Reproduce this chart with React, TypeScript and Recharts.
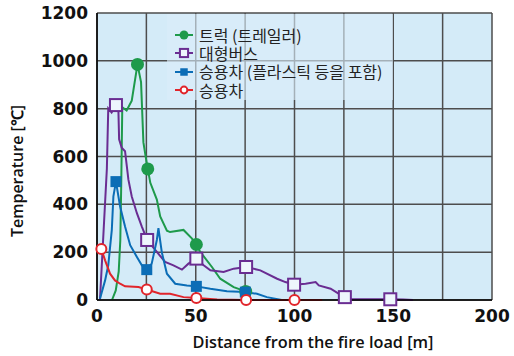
import {
  CartesianGrid,
  ComposedChart,
  Label,
  Legend,
  Line,
  XAxis,
  YAxis,
} from "recharts";

// distance [m], temperature [°C]
const TRUCK: [number, number][] = [
  [7.6, 0], [9.5, 40], [11, 120], [11.8, 250], [12.3, 500], [12.8, 806],
  [15, 792], [17.6, 833], [20.5, 985], [22.3, 911], [23.5, 659], [24.7, 596],
  [25.7, 548], [27, 490], [30.3, 420], [32, 349], [35.4, 290], [37, 284],
  [43.8, 293], [48, 258], [50.3, 232], [52.3, 201], [58.2, 138], [62.4, 89],
  [69.2, 54], [75.3, 36],
];
const TRUCK_MARKS = [20.5, 25.7, 50.3, 75.3];

const BUS: [number, number][] = [
  [1.5, 0], [5, 550], [5.7, 801], [7.4, 784], [9.6, 815], [10.8, 805],
  [11.2, 672], [12.5, 637], [14.2, 622], [15.9, 503], [17.6, 433], [20.2, 363],
  [22.7, 307], [25.4, 251], [30.3, 201], [34.5, 159], [38.7, 145], [43, 127],
  [46.3, 152], [50.3, 173], [54, 145], [57.4, 124], [64.1, 117], [69.2, 131],
  [75.5, 138], [82.7, 124], [91.2, 89], [95.4, 75], [99.8, 64], [105.6, 68],
  [110.7, 75], [112.3, 61], [118.3, 47], [122.5, 26], [125.5, 12], [128, 3],
  [140, 3], [148.5, 3], [155, 2], [160, 0],
];
const BUS_MARKS = [9.6, 25.4, 50.3, 75.5, 99.8, 125.5, 148.5];

const CAR_PLASTIC: [number, number][] = [
  [1.5, 5], [4.1, 82], [5.7, 145], [7.5, 293], [8.3, 433], [9.6, 495],
  [11.7, 391], [14.2, 307], [16.8, 229], [20.2, 180], [22.7, 145], [25.2, 127],
  [27.7, 152], [30.3, 251], [31.1, 300], [32.8, 200], [35.4, 110], [39.6, 68],
  [45.5, 61], [50.3, 57], [57.4, 47], [65.8, 37], [75.1, 33], [81, 26],
  [86, 12], [93.5, 0],
];
const CAR_PLASTIC_MARKS = [9.6, 25.2, 50.3, 75.1];

const CAR: [number, number][] = [
  [2.2, 213], [4.1, 166], [6.6, 110], [9.1, 82], [11.7, 68], [14.2, 57],
  [21, 54], [25.2, 44], [32, 26], [37, 26], [43.8, 12], [50.3, 8],
  [60.8, 2], [75.5, 0], [100, 0], [114, 0],
];
const CAR_MARKS = [2.2, 25.2, 50.3, 75.5, 100];

const DISTANCE_TICKS = [0, 25, 50, 75, 100, 125, 150, 175, 200];
const TEMP_TICKS = [0, 200, 400, 600, 800, 1000, 1200];

const BG = "#d4ebf8";
const TICK_FONT = { fill: "#111", fontSize: 17, fontWeight: 700, fontFamily: "'DejaVu Sans', sans-serif" };

type MarkerKind = "dot" | "square" | "filledSquare" | "ring";

type Series = {
  name: string;
  color: string;
  marker: MarkerKind;
  points: { d: number; t: number }[];
  marks: number[];
};

const SERIES: Series[] = [
  { name: "트럭 (트레일러)", color: "#1e9a4b", marker: "dot", points: toRows(TRUCK), marks: TRUCK_MARKS },
  { name: "대형버스", color: "#6a2d92", marker: "square", points: toRows(BUS), marks: BUS_MARKS },
  { name: "승용차 (플라스틱 등을 포함)", color: "#0b6db6", marker: "filledSquare", points: toRows(CAR_PLASTIC), marks: CAR_PLASTIC_MARKS },
  { name: "승용차", color: "#e1252b", marker: "ring", points: toRows(CAR), marks: CAR_MARKS },
];

function toRows(pairs: [number, number][]) {
  return pairs.map(([d, t]) => ({ d, t }));
}

function Marker({ kind, x, y, color, scale = 1 }: { kind: MarkerKind; x: number; y: number; color: string; scale?: number }) {
  if (kind === "dot") {
    return <circle cx={x} cy={y} r={6.5 * scale} fill={color} />;
  }
  if (kind === "ring") {
    return <circle cx={x} cy={y} r={5 * scale} fill="#ffffff" stroke={color} strokeWidth={2} />;
  }
  if (kind === "square") {
    const h = 6 * scale;
    return <rect x={x - h} y={y - h} width={h * 2} height={h * 2} fill="#eef6fc" stroke={color} strokeWidth={2} />;
  }
  const h = 5.5 * scale;
  return <rect x={x - h} y={y - h} width={h * 2} height={h * 2} fill={color} />;
}

function LegendBox() {
  return (
    <div
      style={{
        background: "rgba(218, 238, 250, 0.62)",
        width: 226,
        height: 86,
        boxSizing: "border-box",
        paddingTop: 12,
        paddingLeft: 8,
        fontFamily: "'Noto Sans CJK KR', sans-serif",
        fontSize: 16,
        color: "#222",
      }}
    >
      {SERIES.map((s) => (
        <div key={s.name} style={{ display: "flex", alignItems: "center", height: 18.3, whiteSpace: "nowrap" }}>
          <svg width={24} height={14}>
            <line x1={0} y1={7} x2={18} y2={7} stroke={s.color} strokeWidth={2} />
            <Marker kind={s.marker} x={9} y={7} color={s.color} scale={0.68} />
          </svg>
          <span style={{ display: "inline-block", height: 17, lineHeight: "17px", overflow: "visible" }}>
            {s.name}
          </span>
        </div>
      ))}
    </div>
  );
}

export default function App() {
  return (
    <div style={{ position: "absolute", left: 0, top: 0 }}>
      <ComposedChart
        width={514}
        height={356}
        margin={{ top: 13, right: 22, bottom: 0, left: 0 }}
      >
        <CartesianGrid stroke="#4d4d4d" strokeWidth={1.5} fill={BG} fillOpacity={1} />
        <XAxis
          type="number"
          dataKey="d"
          domain={[0, 200]}
          ticks={DISTANCE_TICKS}
          tickFormatter={(v: number) => (v % 50 === 0 ? String(v) : "")}
          height={56}
          tickSize={0}
          tickMargin={10}
          axisLine={{ stroke: "#000", strokeWidth: 1.5 }}
          tick={TICK_FONT}
          allowDuplicatedCategory={false}
        >
          <Label
            content={() => (
              <text
                x={313}
                y={348}
                textAnchor="middle"
                fontFamily="'Open Sans', sans-serif"
                fontWeight={600}
                fontSize={16.3}
                fill="#111"
              >
                Distance from the fire load [m]
              </text>
            )}
          />
        </XAxis>
        <YAxis
          type="number"
          domain={[0, 1200]}
          ticks={TEMP_TICKS}
          width={97}
          tickSize={0}
          tickMargin={9}
          axisLine={{ stroke: "#000", strokeWidth: 1.5 }}
          tick={TICK_FONT}
        >
          <Label
            content={() => (
              <text
                x={17}
                y={171}
                transform="rotate(-90 17 171)"
                textAnchor="middle"
                dominantBaseline="central"
                fontFamily="'Open Sans', sans-serif"
                fontWeight={600}
                fontSize={16}
                fill="#111"
              >
                Temperature [℃]
              </text>
            )}
          />
        </YAxis>
        {SERIES.map((s) => (
          <Line
            key={s.name}
            name={s.name}
            data={s.points}
            dataKey="t"
            type="linear"
            stroke={s.color}
            strokeWidth={2}
            isAnimationActive={false}
            activeDot={false}
            dot={(p: any) => (
              <g key={`${s.name}-${p.index}`}>
                {s.marks.includes(p.payload.d) ? (
                  <Marker kind={s.marker} x={p.cx} y={p.cy} color={s.color} />
                ) : null}
              </g>
            )}
          />
        ))}
        <Legend
          layout="vertical"
          align="center"
          verticalAlign="middle"
          content={() => <LegendBox />}
          wrapperStyle={{ left: 167, top: 14, width: 226, height: 86 }}
        />
      </ComposedChart>
    </div>
  );
}
